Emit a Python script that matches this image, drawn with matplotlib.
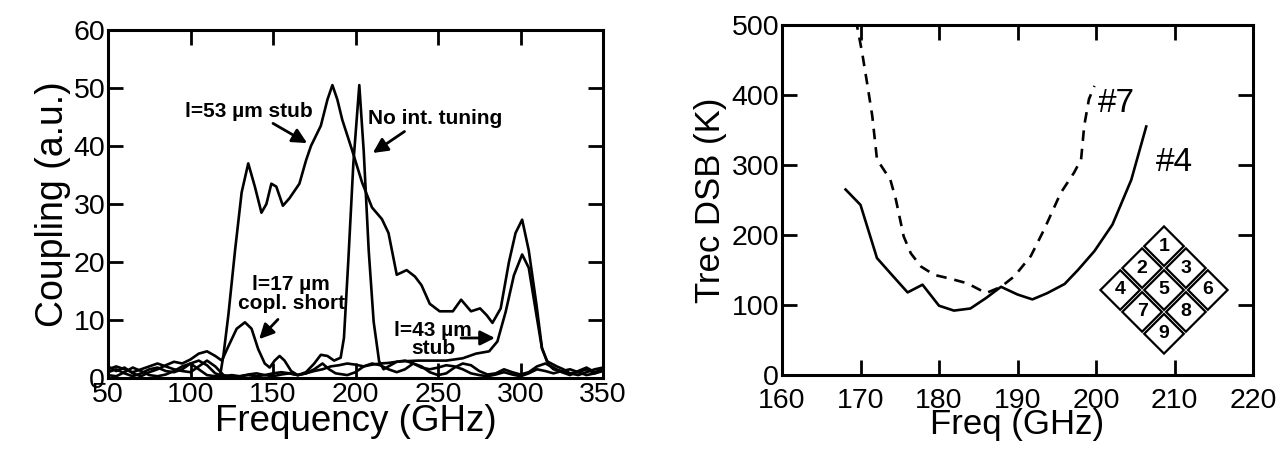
import matplotlib
matplotlib.use('Agg')
import matplotlib.pyplot as plt
from matplotlib.patches import Polygon

plt.rcParams['font.family'] = ['Liberation Sans', 'DejaVu Sans']

# ---- left panel: coupling spectra ----
f_53 = [50, 55, 60, 65, 70, 75, 80, 85, 90, 95, 100, 105, 110, 115, 118,
        120, 123, 127, 131, 135, 139, 143, 146, 149, 152, 156, 160, 166, 170,
        173, 179, 183, 186, 189, 192, 197.7, 204, 210, 216, 220, 225, 231,
        236, 240, 245, 251, 259, 264, 270, 275.5, 279.6, 283, 288, 293, 297,
        301, 305, 309.7, 313, 316, 322, 326, 330, 335, 340, 345, 350]
c_53 = [1.0, 1.5, 0.8, 0.3, 0.8, 1.5, 1.8, 1.2, 1.0, 1.5, 2.5, 3.0, 2.2, 0.8, 0.5,
        4.0, 11.0, 22.0, 32.0, 37.0, 33.0, 28.5, 30.0, 33.5, 33.0, 29.7, 31.0, 33.5, 37.5,
        40.0, 43.5, 48.0, 50.5, 48.0, 44.5, 39.5, 33.7, 29.4, 27.4, 25.0, 17.8, 18.6,
        17.5, 16.0, 12.8, 11.5, 11.5, 13.5, 11.5, 12.0, 10.8, 9.5, 12.0, 20.0, 25.0,
        27.3, 22.0, 12.6, 5.2, 2.9, 2.0, 1.5, 0.8, 1.0, 1.5, 0.8, 1.2]

f_17 = [50, 55, 60, 65, 70, 75, 80, 85, 90, 95, 100, 105, 110, 115, 119, 123,
        128, 133, 137, 141, 145, 148, 151, 154, 157, 161, 165, 170, 175, 180,
        184, 188, 195, 200, 205, 210, 215, 220, 225, 230, 235, 240, 245, 250,
        255, 260, 265, 270, 275, 280, 285, 290, 295, 300, 305, 310, 315, 320,
        325, 330, 335, 340, 345, 350]
c_17 = [2.0, 1.2, 1.8, 0.8, 0.3, 1.0, 1.5, 2.2, 2.8, 2.5, 3.2, 4.2, 4.6, 3.8, 3.0, 5.5,
        8.5, 9.6, 8.5, 5.0, 2.5, 1.8, 3.0, 3.8, 3.0, 1.2, 0.5, 0.8, 1.5, 2.5,
        1.5, 0.8, 0.5, 1.0, 2.0, 2.5, 2.2, 1.5, 1.0, 1.5, 2.5, 2.0, 1.0, 0.5,
        0.8, 1.8, 2.5, 2.2, 1.2, 0.6, 0.8, 1.5, 1.0, 0.6, 1.0, 2.0, 2.5, 1.8,
        1.0, 0.5, 1.2, 1.8, 1.0, 1.6]

f_none = [50, 55, 60, 65, 70, 75, 80, 85, 90, 95, 100, 105, 110, 115, 120, 125,
          130, 135, 140, 145, 150, 155, 160, 165, 170, 175, 179, 183, 187, 191,
          193, 195.6, 198.7, 202.3, 205, 208, 211, 214.3, 217, 220, 225, 230,
          235, 240, 245, 250, 255, 260, 265, 270, 275, 280, 285, 290, 295, 300,
          305, 310, 315, 320, 325, 330, 335, 340, 345, 350]
c_none = [0.5, 0.3, 1.0, 1.8, 1.2, 0.5, 0.3, 0.6, 1.2, 2.0, 2.5, 1.5, 0.5, 0.3, 0.3, 0.5,
          0.3, 0.6, 0.8, 0.5, 0.3, 0.6, 0.8, 0.5, 1.0, 2.5, 4.0, 3.8, 3.0, 3.5,
          6.9, 20.0, 37.0, 50.5, 39.0, 22.0, 9.7, 2.9, 1.5, 2.0, 2.8, 3.0,
          2.5, 1.8, 1.5, 1.8, 2.2, 2.0, 1.5, 0.8, 0.5, 0.3, 0.6, 1.0, 0.6, 0.3,
          0.8, 1.5, 1.2, 0.8, 1.2, 1.5, 1.0, 0.5, 0.8, 1.5]

f_43 = [50, 55, 60, 65, 70, 75, 80, 85, 90, 95, 100, 105, 110, 115, 120, 125,
        130, 135, 140, 145, 150, 155, 160, 165, 170, 175, 180, 185, 190, 195,
        200, 205, 210, 215, 220, 225, 230, 238, 245, 255, 265, 273, 281, 286,
        291, 296, 301, 305, 309, 313, 317, 320, 325, 330, 335, 340, 345, 350]
c_43 = [1.5, 2.0, 1.5, 1.0, 1.5, 2.0, 2.5, 2.0, 1.5, 1.2, 1.0, 2.0, 3.0, 2.0, 0.5, 0.2,
        0.3, 0.5, 0.3, 0.5, 0.8, 1.0, 0.8, 0.5, 0.8, 1.2, 1.5, 2.0, 2.2, 2.5,
        2.3, 2.0, 2.3, 2.5, 2.6, 2.8, 2.9, 3.0, 3.0, 3.0, 3.4, 4.2, 4.6, 6.3,
        11.4, 17.7, 21.3, 19.0, 12.0, 5.1, 2.3, 1.5, 1.2, 0.8, 0.5, 1.0, 1.5, 1.8]

# ---- right panel: receiver noise ----
fq_4 = [168.1, 170.0, 172.1, 174.0, 176.0, 177.9, 180.0, 181.9, 184.0, 186.0,
        187.9, 190.0, 191.9, 193.8, 196.0, 197.7, 199.8, 202.1, 204.5, 206.4]
t_4 = [265, 243, 167, 143, 118, 129, 99, 92, 95, 110,
       126, 115, 108, 117, 130, 150, 177, 215, 279, 355]

fq_7 = [169.4, 170.2, 170.9, 171.5, 172.1, 173.8, 174.5, 175.5, 176.4, 177.7,
        179.4, 181.3, 183.6, 186.0, 187.9, 189.6, 191.7, 193.4, 195.5, 197.2,
        198.1, 198.5, 199.1, 199.8]
t_7 = [508, 461, 413, 370, 308, 279, 251, 198, 174, 155,
       143, 138, 131, 117, 126, 141, 170, 208, 260, 289,
       308, 356, 394, 413]

pixel_numbers = [1, 2, 3, 4, 5, 6, 7, 8, 9]

W, H = 1286, 450
fig = plt.figure(figsize=(W / 100, H / 100), dpi=100)
fig.patch.set_facecolor('white')

TICK_FS = 20.5
LW = 1.9


def style_axes(ax, xpad):
    for s in ax.spines.values():
        s.set_linewidth(2.2)
    ax.tick_params(direction='in', top=True, right=True, length=11, width=2,
                   labelsize=TICK_FS, pad=2)
    ax.tick_params(axis='x', pad=xpad)


ax1 = fig.add_axes([108 / W, 1 - 378 / H, (603 - 108) / W, (378 - 30) / H])
for fx, cy in [(f_53, c_53), (f_17, c_17), (f_none, c_none), (f_43, c_43)]:
    ax1.plot(fx, cy, color='black', lw=LW)
ax1.set_xlim(50, 350)
ax1.set_ylim(0, 60)
ax1.set_xticks(range(50, 351, 50))
ax1.set_yticks(range(0, 61, 10))
style_axes(ax1, 3)
ax1.set_xlabel('Frequency (GHz)', fontsize=26.5, labelpad=-3)
ax1.set_ylabel('Coupling (a.u.)', fontsize=27, labelpad=2)

arr = dict(arrowstyle='-|>', color='black', lw=2, mutation_scale=22, shrinkA=0, shrinkB=0)
tk = dict(fontsize=15, fontweight='bold', ha='center', va='center')
ax1.text(135.5, 45.9, 'l=53 µm stub', **tk)
ax1.annotate('', xy=(170.7, 40.5), xytext=(150, 43.9), arrowprops=arr)
ax1.text(248, 44.8, 'No int. tuning', **tk)
ax1.annotate('', xy=(210.5, 38.8), xytext=(229.7, 42.5), arrowprops=arr)
ax1.text(161, 14.5, 'l=17 µm\ncopl. short', linespacing=0.95, **tk)
ax1.annotate('', xy=(141.6, 6.7), xytext=(153, 10.1), arrowprops=arr)
ax1.text(247, 6.7, 'l=43 µm\nstub', linespacing=0.95, **tk)
ax1.annotate('', xy=(284.5, 6.9), xytext=(264, 6.9), arrowprops=arr)

ax2 = fig.add_axes([782 / W, 1 - 375 / H, (1253 - 782) / W, 350 / H])
ax2.plot(fq_4, t_4, color='black', lw=LW)
ax2.plot(fq_7, t_7, color='black', lw=LW, ls=(0, (4, 3)))
ax2.set_xlim(160, 220)
ax2.set_ylim(0, 500)
ax2.set_xticks(range(160, 221, 10))
ax2.set_yticks(range(0, 501, 100))
style_axes(ax2, 9)
ax2.set_xlabel('Freq (GHz)', fontsize=25, labelpad=-4)
ax2.set_ylabel('Trec DSB (K)', fontsize=25, labelpad=3)
ax2.text(202.6, 388, '#7', fontsize=24, ha='center', va='center')
ax2.text(210, 303, '#4', fontsize=24, ha='center', va='center')

# diamond array of pixels (inset)
axi = fig.add_axes([(1164 - 66) / W, 1 - (290 + 66) / H, 132 / W, 132 / H])
axi.set_xlim(-66, 66)
axi.set_ylim(-66, 66)
axi.set_aspect('equal')
axi.axis('off')
h = 21.9
half = 19.8
offsets = [(0, 2), (-1, 1), (1, 1), (-2, 0), (0, 0), (2, 0), (-1, -1), (1, -1), (0, -2)]
for n, (ox, oy) in zip(pixel_numbers, offsets):
    cx, cy = ox * h, oy * h
    poly = Polygon([(cx, cy + half), (cx + half, cy), (cx, cy - half), (cx - half, cy)],
                   closed=True, facecolor='white', edgecolor='black', lw=1.6)
    axi.add_patch(poly)
    axi.text(cx, cy, str(n), fontsize=14, fontweight='bold', ha='center', va='center')

fig.savefig('out.png', dpi=100, facecolor='white')
